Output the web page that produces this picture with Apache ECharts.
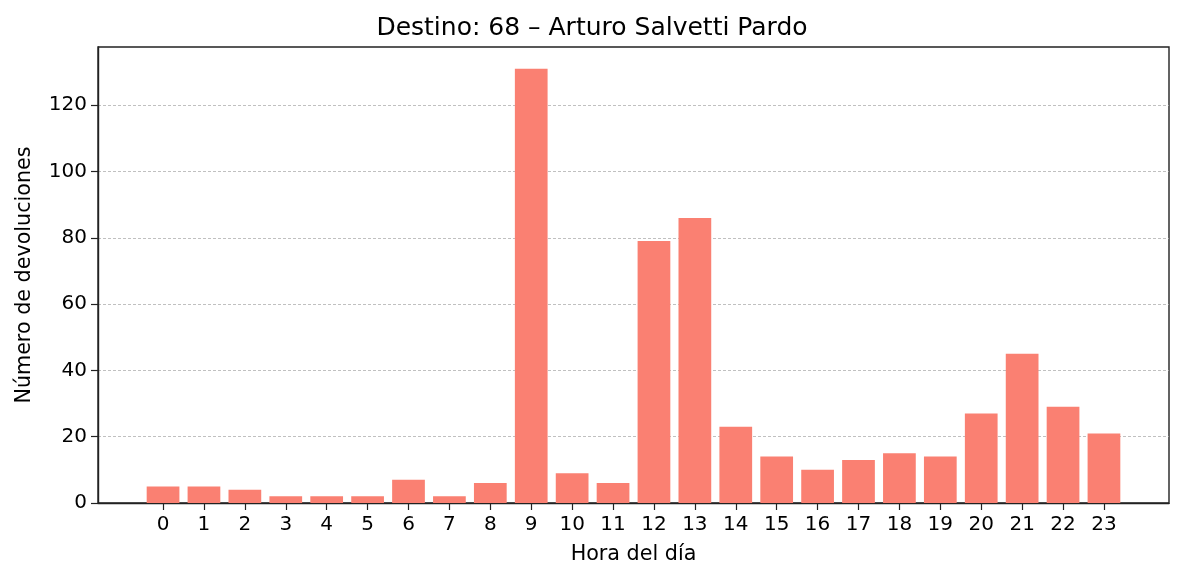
<!DOCTYPE html>
<html><head><meta charset="utf-8">
<script src="https://cdn.jsdelivr.net/npm/echarts@6/dist/echarts.min.js"></script>
<style>html,body{margin:0;padding:0;background:#fff}#c{width:1184px;height:581px}</style>
</head><body><div id="c"></div>
<script>
const hours = [0,1,2,3,4,5,6,7,8,9,10,11,12,13,14,15,16,17,18,19,20,21,22,23];
const counts = [5,5,4,2,2,2,7,2,6,131,9,6,79,86,23,14,10,13,15,14,27,45,29,21];
const yTicks = [0,20,40,60,80,100,120];
const title = 'Destino: 68 – Arturo Salvetti Pardo';

const gridLeft = 98, gridRight = 15, gridTop = 47, gridBottom = 78;
const xMin = -1.59, xMax = 24.59;
const plotW = 1184 - gridLeft - gridRight;
const barW = 0.8 * plotW / (xMax - xMin);
const font = 'DejaVu Sans';

const chart = echarts.init(document.getElementById('c'), null, {renderer:'canvas'});
chart.setOption({
  animation:false,
  title:{text:title, left:'center', top:11, textStyle:{fontFamily:font, fontSize:25, fontWeight:'normal', color:'#000'}},
  grid:{left:gridLeft, right:gridRight, top:gridTop, bottom:gridBottom, show:true, borderColor:'#222', borderWidth:1.4, backgroundColor:'transparent'},
  xAxis:{type:'value', min:xMin, max:xMax,
    name:'Hora del día', nameLocation:'middle', nameGap:41,
    nameTextStyle:{fontFamily:font, fontSize:20.7, color:'#000'},
    axisLine:{show:true, onZero:false, lineStyle:{color:'#222', width:1.4}},
    axisTick:{show:true, customValues:hours, length:7, lineStyle:{color:'#222', width:1.2}},
    axisLabel:{customValues:hours, fontFamily:font, fontSize:20, color:'#000', margin:12},
    splitLine:{show:false}},
  yAxis:{type:'value', min:0, max:137.55, interval:20,
    name:'Número de devoluciones', nameLocation:'middle', nameGap:63,
    nameTextStyle:{fontFamily:font, fontSize:20.7, color:'#000'},
    axisLine:{show:true, onZero:false, lineStyle:{color:'#222', width:1.4}},
    axisTick:{show:true, customValues:yTicks, length:7, lineStyle:{color:'#222', width:1.2}},
    axisLabel:{customValues:yTicks, fontFamily:font, fontSize:20, color:'#000', margin:11},
    splitLine:{show:true, lineStyle:{color:'#b0b0b0', width:0.8, type:[3,2]}}},
  series:[{type:'bar', data:hours.map((h,i)=>[h,counts[i]]), barWidth:barW,
    itemStyle:{color:'#FA8072', borderWidth:0}}]
});
</script></body></html>
